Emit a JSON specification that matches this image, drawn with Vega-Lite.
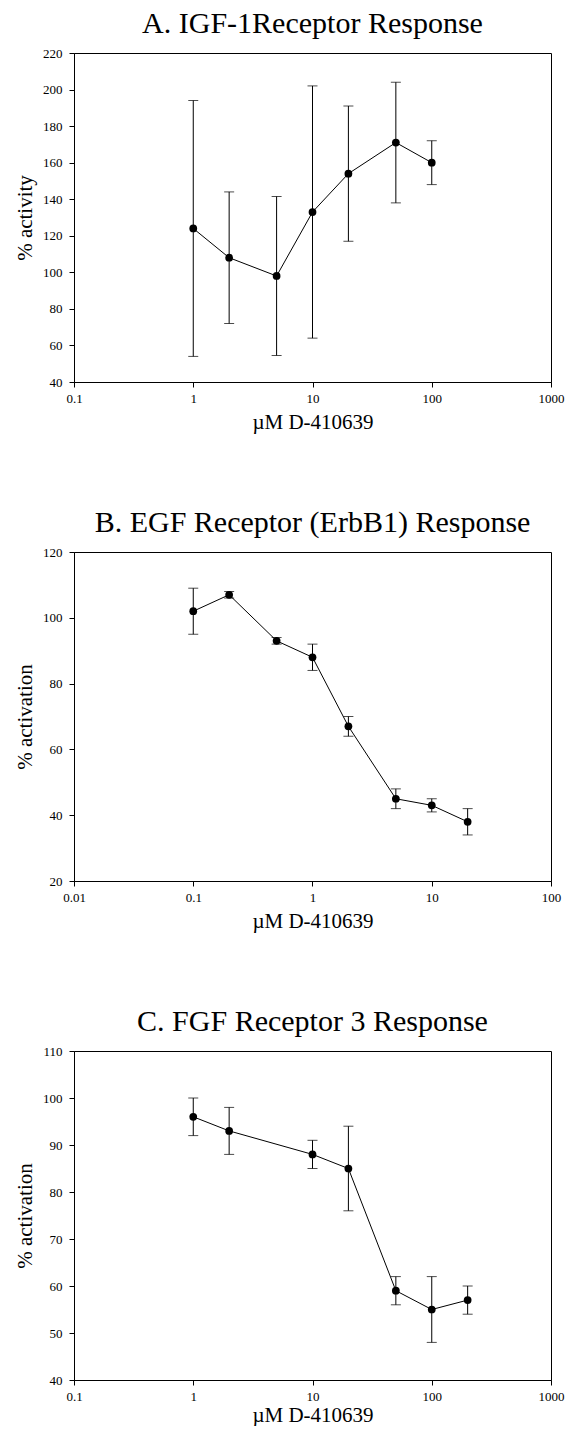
{
  "$schema": "https://vega.github.io/schema/vega-lite/v6.json",
  "background": "white",
  "padding": {"left": 14, "top": 8, "right": 5, "bottom": 0},
  "spacing": 74,
  "config": {
    "font": "Liberation Serif",
    "view": {"stroke": "black", "strokeWidth": 1},
    "axis": {
      "grid": false,
      "domainColor": "black",
      "tickColor": "black",
      "tickSize": 5,
      "labelColor": "black",
      "labelFont": "Liberation Serif",
      "labelFontSize": 13,
      "titleFont": "Liberation Serif",
      "titleFontSize": 21,
      "titleFontWeight": "normal",
      "titleColor": "black",
      "labelPadding": 7
    },
    "axisX": {"titlePadding": 6, "labelPadding": 5},
    "axisY": {"titlePadding": 7},
    "title": {"font": "Liberation Serif", "fontSize": 30, "fontWeight": "normal", "color": "black", "frame": "group", "anchor": "middle"}
  },
  "datasets": {
    "a": [
      {"conc": 1, "mean": 124, "lo": 54, "hi": 194},
      {"conc": 2, "mean": 108, "lo": 72, "hi": 144},
      {"conc": 5, "mean": 98, "lo": 54.5, "hi": 141.5},
      {"conc": 10, "mean": 133, "lo": 64, "hi": 202},
      {"conc": 20, "mean": 154, "lo": 117, "hi": 191},
      {"conc": 50, "mean": 171, "lo": 138, "hi": 204},
      {"conc": 100, "mean": 160, "lo": 148, "hi": 172}
    ],
    "b": [
      {"conc": 0.1, "mean": 102, "lo": 95, "hi": 109},
      {"conc": 0.2, "mean": 107, "lo": 106, "hi": 108},
      {"conc": 0.5, "mean": 93, "lo": 92, "hi": 94},
      {"conc": 1, "mean": 88, "lo": 84, "hi": 92},
      {"conc": 2, "mean": 67, "lo": 64, "hi": 70},
      {"conc": 5, "mean": 45, "lo": 42, "hi": 48},
      {"conc": 10, "mean": 43, "lo": 41, "hi": 45},
      {"conc": 20, "mean": 38, "lo": 34, "hi": 42}
    ],
    "c": [
      {"conc": 1, "mean": 96, "lo": 92, "hi": 100},
      {"conc": 2, "mean": 93, "lo": 88, "hi": 98},
      {"conc": 10, "mean": 88, "lo": 85, "hi": 91},
      {"conc": 20, "mean": 85, "lo": 76, "hi": 94},
      {"conc": 50, "mean": 59, "lo": 56, "hi": 62},
      {"conc": 100, "mean": 55, "lo": 48, "hi": 62},
      {"conc": 200, "mean": 57, "lo": 54, "hi": 60}
    ]
  },
  "vconcat": [
    {
      "title": {"text": "A. IGF-1Receptor Response", "offset": 8},
      "width": 477, "height": 329,
      "data": {"name": "a"},
      "encoding": {
        "x": {"field": "conc", "type": "quantitative", "scale": {"type": "log", "domain": [0.1, 1000]}, "axis": {"title": "µM D-410639", "values": [0.1, 1, 10, 100, 1000], "labelExpr": "'' + datum.value", "labelFlush": false}},
        "y": {"field": "mean", "type": "quantitative", "scale": {"domain": [40, 220]}, "axis": {"title": "% activity", "values": [40, 60, 80, 100, 120, 140, 160, 180, 200, 220], "labelOverlap": false}}
      },
      "layer": [
        {"mark": {"type": "errorbar", "color": "black", "ticks": {"size": 10, "color": "black"}, "rule": {"strokeWidth": 1}}, "encoding": {"y": {"field": "lo", "type": "quantitative"}, "y2": {"field": "hi"}}},
        {"mark": {"type": "line", "color": "black", "strokeWidth": 1}},
        {"mark": {"type": "point", "filled": true, "color": "black", "opacity": 1, "size": 60}}
      ]
    },
    {
      "title": {"text": "B. EGF Receptor (ErbB1) Response", "offset": 8},
      "width": 477, "height": 329,
      "data": {"name": "b"},
      "encoding": {
        "x": {"field": "conc", "type": "quantitative", "scale": {"type": "log", "domain": [0.01, 100]}, "axis": {"title": "µM D-410639", "values": [0.01, 0.1, 1, 10, 100], "labelExpr": "'' + datum.value", "labelFlush": false}},
        "y": {"field": "mean", "type": "quantitative", "scale": {"domain": [20, 120]}, "axis": {"title": "% activation", "values": [20, 40, 60, 80, 100, 120], "labelOverlap": false}}
      },
      "layer": [
        {"mark": {"type": "errorbar", "color": "black", "ticks": {"size": 10, "color": "black"}, "rule": {"strokeWidth": 1}}, "encoding": {"y": {"field": "lo", "type": "quantitative"}, "y2": {"field": "hi"}}},
        {"mark": {"type": "line", "color": "black", "strokeWidth": 1}},
        {"mark": {"type": "point", "filled": true, "color": "black", "opacity": 1, "size": 60}}
      ]
    },
    {
      "title": {"text": "C. FGF Receptor 3 Response", "offset": 8},
      "width": 477, "height": 329,
      "data": {"name": "c"},
      "encoding": {
        "x": {"field": "conc", "type": "quantitative", "scale": {"type": "log", "domain": [0.1, 1000]}, "axis": {"title": "µM D-410639", "values": [0.1, 1, 10, 100, 1000], "labelExpr": "'' + datum.value", "labelFlush": false, "titlePadding": 1}},
        "y": {"field": "mean", "type": "quantitative", "scale": {"domain": [40, 110]}, "axis": {"title": "% activation", "values": [40, 50, 60, 70, 80, 90, 100, 110], "labelOverlap": false}}
      },
      "layer": [
        {"mark": {"type": "errorbar", "color": "black", "ticks": {"size": 10, "color": "black"}, "rule": {"strokeWidth": 1}}, "encoding": {"y": {"field": "lo", "type": "quantitative"}, "y2": {"field": "hi"}}},
        {"mark": {"type": "line", "color": "black", "strokeWidth": 1}},
        {"mark": {"type": "point", "filled": true, "color": "black", "opacity": 1, "size": 60}}
      ]
    }
  ]
}
